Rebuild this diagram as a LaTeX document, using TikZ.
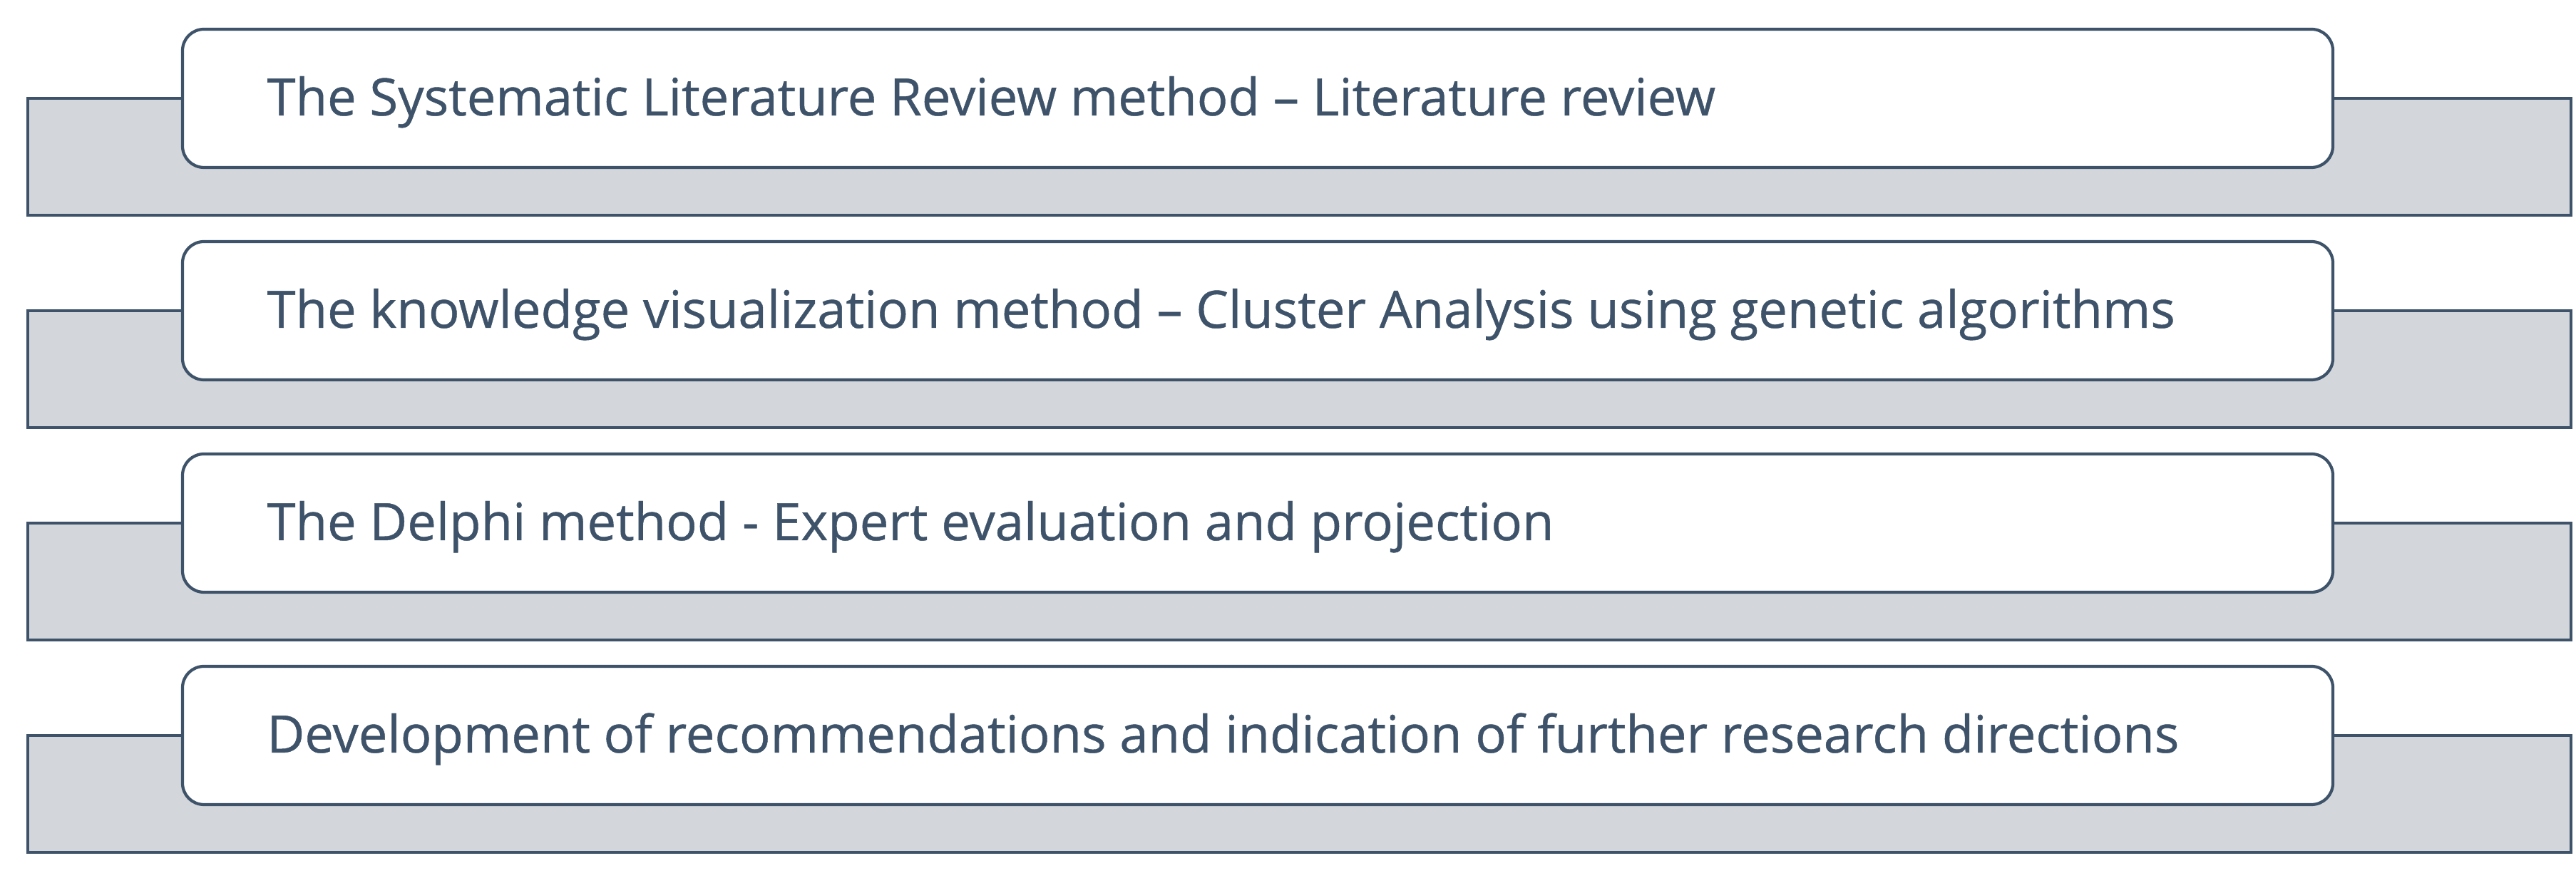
\documentclass[tikz,border=0pt]{standalone}
\usepackage{fontspec}
\setmainfont{Open Sans}
\newfontfamily\stepfont[FakeBold=0.6]{Open Sans}
\usetikzlibrary{positioning}

\definecolor{slate}{HTML}{3E5369}
\definecolor{bargray}{HTML}{D3D7DB}

\tikzset{
	barbox/.style={draw=slate,fill=bargray,line width=1.2pt,minimum width=35.67cm,minimum height=1.64cm,inner sep=0pt},
	stepbox/.style={draw=slate,fill=white,line width=1.2pt,rounded corners=0.3cm,minimum width=30.16cm,minimum height=1.94cm,inner sep=0pt},
	steptext/.style={anchor=base west,text=slate,font=\stepfont\fontsize{20.6}{24}\selectfont,inner sep=0pt}
}

\begin{document}
\begin{tikzpicture}
	\useasboundingbox (0,0) rectangle (36.13,12.39);
	\node [barbox] (bar1) at (18.225,10.19) {};
	\node [stepbox] (box1) at ([xshift=-0.585cm,yshift=0.82cm]bar1.center) {};
	\node [steptext] (txt1) at ([xshift=1.2cm,yshift=-0.24cm]box1.west) {The Systematic Literature Review method – Literature review};
	\node [barbox] (bar2) at ([yshift=-2.98cm]bar1.center) {};
	\node [stepbox] (box2) at ([xshift=-0.585cm,yshift=0.82cm]bar2.center) {};
	\node [steptext] (txt2) at ([xshift=1.2cm,yshift=-0.24cm]box2.west) {The knowledge visualization method – Cluster Analysis using genetic algorithms};
	\node [barbox] (bar3) at ([yshift=-2.98cm]bar2.center) {};
	\node [stepbox] (box3) at ([xshift=-0.585cm,yshift=0.82cm]bar3.center) {};
	\node [steptext] (txt3) at ([xshift=1.2cm,yshift=-0.24cm]box3.west) {The Delphi method - Expert evaluation and projection};
	\node [barbox] (bar4) at ([yshift=-2.98cm]bar3.center) {};
	\node [stepbox] (box4) at ([xshift=-0.585cm,yshift=0.82cm]bar4.center) {};
	\node [steptext] (txt4) at ([xshift=1.2cm,yshift=-0.24cm]box4.west) {Development of recommendations and indication of further research directions};
\end{tikzpicture}
\end{document}
